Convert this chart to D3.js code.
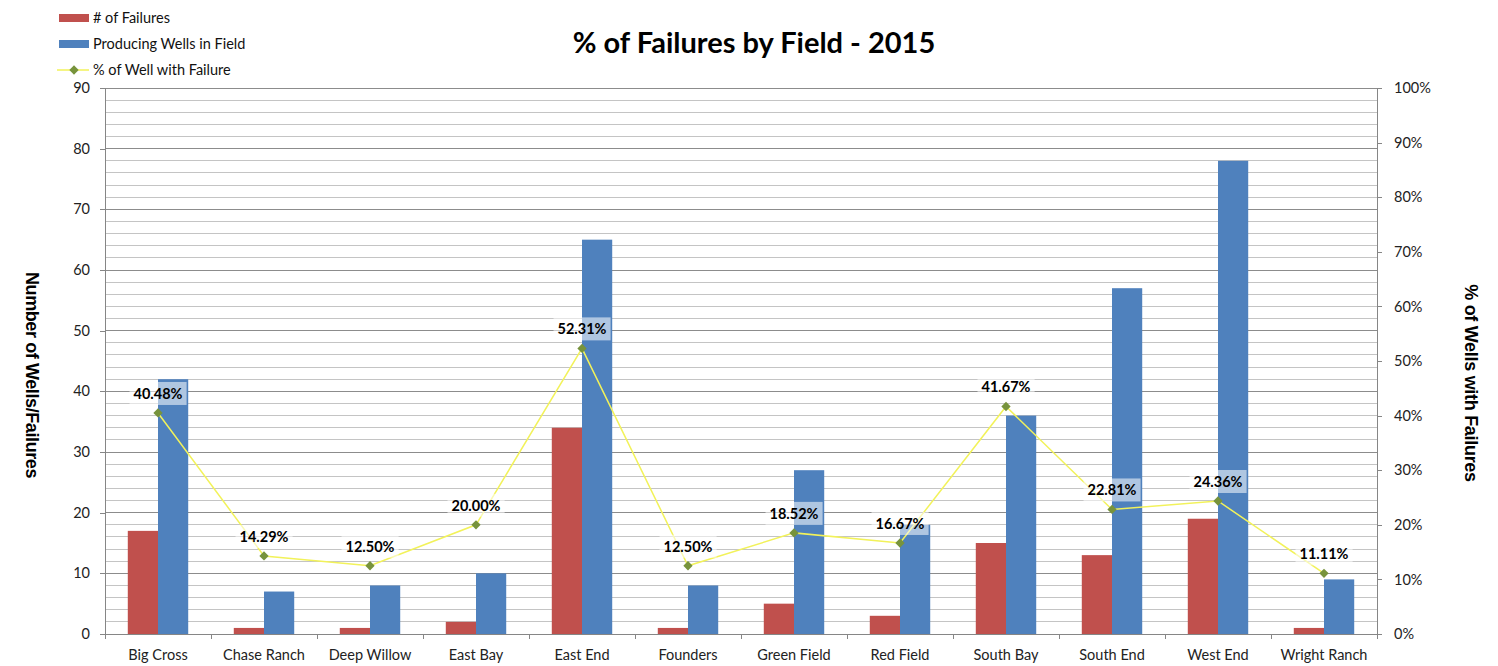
<!DOCTYPE html>
<html><head><meta charset="utf-8">
<script src="https://cdn.jsdelivr.net/npm/d3@7/dist/d3.min.js"></script>
<style>body{margin:0;background:#fff}svg{display:block}</style>
</head><body>
<svg id="c" width="1498" height="666"></svg>
<script>
const categories = ["Big Cross","Chase Ranch","Deep Willow","East Bay","East End","Founders","Green Field","Red Field","South Bay","South End","West End","Wright Ranch"];
const failures = [17,1,1,2,34,1,5,3,15,13,19,1];
const wells = [42,7,8,10,65,8,27,18,36,57,78,9];
const pctFail = [40.48,14.29,12.50,20.00,52.31,12.50,18.52,16.67,41.67,22.81,24.36,11.11];
const leftTicks = [0,10,20,30,40,50,60,70,80,90];
const rightTicks = [0,10,20,30,40,50,60,70,80,90,100];
const seriesNames = ["# of Failures","Producing Wells in Field","% of Well with Failure"];

const svg = d3.select("#c");
const L = 105, R = 1377, T = 88, B = 634;
const font = "Lato, 'Open Sans', sans-serif";
const x = d3.scaleBand().domain(categories).range([L, R]).paddingInner(0.43).paddingOuter(0.215);
const xOuter = d3.scaleBand().domain(categories).range([L, R]);
const xs = d3.scaleBand().domain([0,1]).range([0, x.bandwidth()]);
const y = d3.scaleLinear().domain([0,90]).range([B, T]);
const y2 = d3.scaleLinear().domain([0,100]).range([B, T]);

// grid
const minor = d3.range(0, 91, 2);
svg.append("g").selectAll("line").data(minor).join("line")
  .attr("x1", L).attr("x2", R).attr("y1", d => y(d)).attr("y2", d => y(d))
  .attr("stroke", d => d % 10 === 0 ? "#8c8c8c" : "#c4c4c4").attr("stroke-width", 1)
  .attr("shape-rendering","crispEdges");

// left axis
const gl = svg.append("g").attr("transform", `translate(${L},0)`)
  .call(d3.axisLeft(y).tickValues(leftTicks).tickSize(5).tickPadding(10));
gl.selectAll("text").attr("font-family", font).attr("font-size", 14.5).attr("fill", "#222");
gl.selectAll("line,path").attr("stroke", "#868686").attr("shape-rendering","crispEdges");

// right axis
const gr = svg.append("g").attr("transform", `translate(${R},0)`)
  .call(d3.axisRight(y2).tickValues(rightTicks).tickSize(5).tickPadding(12).tickFormat(d => d + "%"));
gr.selectAll("text").attr("font-family", font).attr("font-size", 14.5).attr("fill", "#222");
gr.selectAll("line,path").attr("stroke", "#868686").attr("shape-rendering","crispEdges");

// bottom axis
const gb = svg.append("g").attr("transform", `translate(0,${B})`)
  .call(d3.axisBottom(xOuter).tickSize(0).tickPadding(16));
gb.selectAll("text").attr("font-family", font).attr("font-size", 14.5).attr("fill", "#222");
gb.select("path").attr("stroke", "#868686").attr("shape-rendering","crispEdges");
gb.selectAll(".tick line").remove();
svg.append("g").selectAll("line").data(d3.range(categories.length + 1)).join("line")
  .attr("x1", i => L + i * xOuter.step()).attr("x2", i => L + i * xOuter.step())
  .attr("y1", B).attr("y2", B + 5).attr("stroke", "#868686").attr("shape-rendering","crispEdges");

// bars
const colors = ["#C0504D", "#4F81BD"];
const g = svg.append("g");
categories.forEach((c, i) => {
  [failures[i], wells[i]].forEach((v, k) => {
    g.append("rect").attr("x", x(c) + xs(k)).attr("width", xs.bandwidth())
      .attr("y", y(v)).attr("height", y(0) - y(v)).attr("fill", colors[k]);
  });
});

// line
const cx = c => x(c) + x.bandwidth() / 2;
const pts = categories.map((c, i) => [cx(c), y2(pctFail[i])]);
svg.append("path").attr("d", d3.line()(pts)).attr("fill", "none")
  .attr("stroke", "#F2F25A").attr("stroke-width", 1.5);
const diamond = d3.symbol().type(d3.symbolDiamond2).size(55);
svg.append("g").selectAll("path").data(pts).join("path")
  .attr("transform", d => `translate(${d[0]},${d[1]})`).attr("d", diamond).attr("fill", "#77933C");

// labels
const lg = svg.append("g");
pts.forEach((p, i) => {
  const t = lg.append("text").attr("x", p[0]).attr("y", p[1] - 14).attr("text-anchor", "middle")
    .attr("font-family", font).attr("font-weight", "bold").attr("font-size", 14.5).attr("fill", "#000")
    .text(pctFail[i].toFixed(2) + "%");
  const bb = t.node().getBBox();
  lg.insert("rect", "text").attr("x", bb.x - 4).attr("y", bb.y - 3).attr("width", bb.width + 8).attr("height", bb.height + 6)
    .attr("fill", "#fff").attr("fill-opacity", 0.55);
});
lg.selectAll("text").raise();

// title
svg.append("text").attr("x", 754).attr("y", 53).attr("text-anchor", "middle")
  .attr("font-family", font).attr("font-weight", "bold").attr("font-size", 29).attr("fill", "#000")
  .text("% of Failures by Field - 2015");

// axis titles
svg.append("text").attr("transform", "translate(26,375) rotate(90)").attr("text-anchor", "middle")
  .attr("font-family", "'Liberation Sans', Arial, sans-serif").attr("font-weight", "bold").attr("font-size", 18)
  .attr("letter-spacing", -0.4)
  .text("Number of Wells/Failures");
svg.append("text").attr("transform", "translate(1465,383) rotate(90)").attr("text-anchor", "middle")
  .attr("font-family", "'Liberation Sans', Arial, sans-serif").attr("font-weight", "bold").attr("font-size", 18)
  .attr("letter-spacing", -0.3)
  .text("% of Wells with Failures");

// legend
const leg = svg.append("g");
seriesNames.forEach((n, i) => {
  const yy = 18 + i * 26;
  if (i < 2) {
    leg.append("rect").attr("x", 59).attr("y", yy - 4).attr("width", 30).attr("height", 8).attr("fill", colors[i]);
  } else {
    leg.append("line").attr("x1", 57).attr("x2", 89).attr("y1", yy).attr("y2", yy).attr("stroke", "#F2F25A").attr("stroke-width", 1.5);
    leg.append("path").attr("transform", `translate(74,${yy})`).attr("d", diamond).attr("fill", "#77933C");
  }
  leg.append("text").attr("x", 93).attr("y", yy + 5).attr("font-family", font).attr("font-size", 14.5).attr("fill", "#111").text(n);
});
</script>
</body></html>
